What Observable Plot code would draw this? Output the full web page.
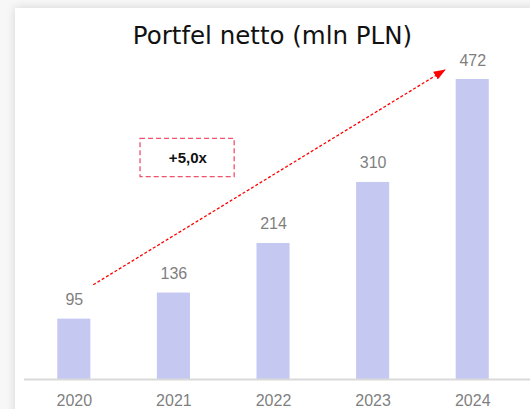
<!DOCTYPE html>
<html><head><meta charset="utf-8">
<script src="https://cdn.jsdelivr.net/npm/d3@7"></script>
<script src="https://cdn.jsdelivr.net/npm/@observablehq/plot@0.6"></script>
<style>
html,body{margin:0;padding:0;width:530px;height:409px;overflow:hidden;background:#f7f7f7;}
#card{position:absolute;left:15px;top:8px;width:600px;height:520px;background:#fff;box-shadow:0 0 9px rgba(0,0,0,0.14);}
#chart{position:absolute;left:0;top:0;}
#title{position:absolute;left:0;width:545px;top:20.5px;text-align:center;font-family:"DejaVu Sans";font-size:24.5px;color:#111;white-space:nowrap;}
</style>
</head><body>
<div id="card"></div>
<div id="chart"></div>
<div id="title">Portfel netto (mln PLN)</div>
<script>
const years = [2020, 2021, 2022, 2023, 2024];
const values = [95, 136, 214, 310, 472];
const growthLabel = ["+5,0x"];
// annotation anchors in data units (year, mln PLN)
const arrowStart = [2020.19, 149];
const arrowEnd = [2023.72, 487];
const boxYears = [2020.665, 2021.61];
const boxValues = [318.3, 378.7];
const boxLabelPos = [2021.14, 348.5];

const data = years.map((y, i) => ({year: y, value: values[i]}));
const labelFont = "Liberation Sans, Arial, sans-serif";

const arrowHead = (color, context) => {
  const m = d3.create("svg:marker")
    .attr("viewBox", "-6 -6 12 12")
    .attr("markerWidth", 12).attr("markerHeight", 12)
    .attr("markerUnits", "userSpaceOnUse")
    .attr("refX", 5).attr("refY", 0)
    .attr("orient", "auto");
  m.append("path").attr("d", "M-6,-4.5L6,0L-6,4.5Z").attr("fill", "#ff0000").attr("stroke", "none");
  return m.node();
};

const chart = Plot.plot({
  width: 530,
  height: 409,
  marginLeft: 24,
  marginRight: 0,
  marginTop: 79,
  marginBottom: 30,
  style: {background: "transparent", fontFamily: labelFont, color: "#7f7f7f", overflow: "visible"},
  x: {type: "linear", domain: [2019.5, 2024.58], label: null},
  y: {domain: [0, 472], axis: null},
  marks: [
    Plot.rectY(data, {x1: d => d.year - 0.166, x2: d => d.year + 0.166, y: "value", fill: "#c5c9f2"}),
    Plot.ruleY([0], {stroke: "#d9d9d9", strokeWidth: 2}),
    Plot.text(data, {x: "year", y: "value", text: d => String(d.value), dy: -14, lineAnchor: "bottom", fontSize: 16, fill: "#7f7f7f", fontFamily: labelFont}),
    Plot.axisX({ticks: years, tickFormat: d => String(d), tickSize: 0, tickPadding: 15, fontSize: 16, fill: "#7f7f7f", fontFamily: labelFont, label: null}),
    Plot.rect([0], {x1: () => boxYears[0], x2: () => boxYears[1], y1: () => boxValues[0], y2: () => boxValues[1], fill: "none", stroke: "#f0506e", strokeWidth: 1.3, strokeDasharray: "5,3"}),
    Plot.text(growthLabel, {x: () => boxLabelPos[0], y: () => boxLabelPos[1], text: d => d, fontSize: 15, fontWeight: "bold", fill: "#111", fontFamily: labelFont}),
    Plot.link([0], {x1: () => arrowStart[0], y1: () => arrowStart[1], x2: () => arrowEnd[0], y2: () => arrowEnd[1], stroke: "#ff0000", strokeWidth: 1.3, strokeDasharray: "3,2", markerEnd: arrowHead})
  ]
});
document.getElementById("chart").appendChild(chart);
</script>
</body></html>
